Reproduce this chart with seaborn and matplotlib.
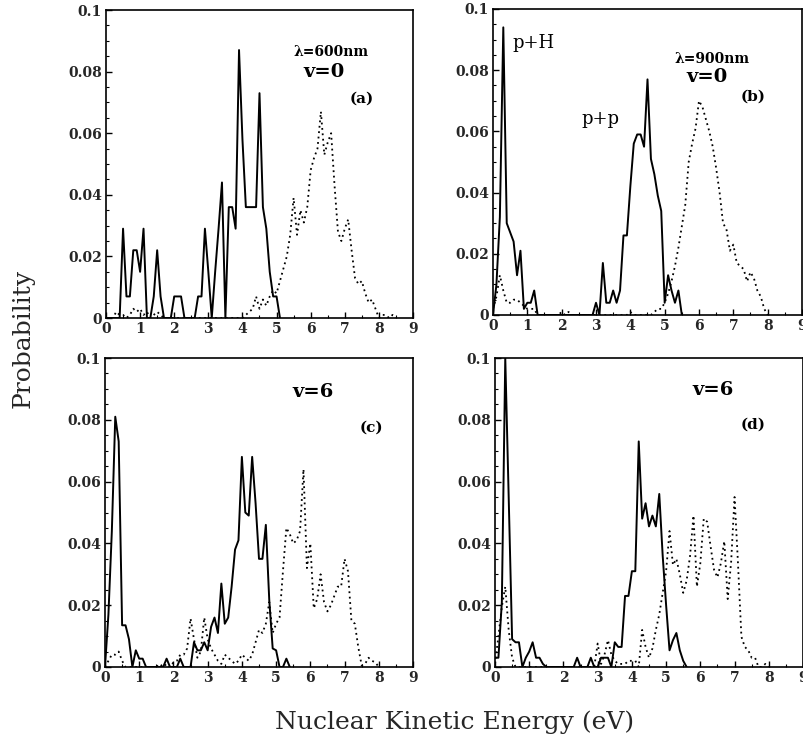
import numpy as np
import pandas as pd
import matplotlib
matplotlib.use("Agg")
import matplotlib.pyplot as plt
from matplotlib.ticker import MultipleLocator, FixedLocator, FixedFormatter
import seaborn as sns

# ---- data: probability per 0.1 eV energy bin, each series starts at 0.0 eV ----
STEP = 0.1

a_solid = [0, 0, 0, 0, 0, 0.029, 0.007, 0.007, 0.022, 0.022, 0.015, 0.029, 0, 0,
           0.007, 0.022, 0.007, 0, 0, 0, 0.007, 0.007, 0.007, 0, 0, 0, 0, 0.007,
           0.007, 0.029, 0.015, 0, 0.015, 0.029, 0.044, 0, 0.036, 0.036, 0.029,
           0.087, 0.058, 0.036, 0.036, 0.036, 0.036, 0.073, 0.036, 0.029, 0.015,
           0.007, 0.007, 0]
a_dotted = [0, 0, 0, 0.002, 0.001, 0.001, 0, 0.001, 0.003, 0.002, 0.003, 0.001,
            0.002, 0, 0.001, 0.002, 0.001, 0, 0, 0, 0, 0, 0, 0, 0, 0, 0, 0, 0, 0,
            0, 0, 0, 0, 0, 0, 0, 0, 0, 0, 0, 0.001, 0.002, 0.003, 0.007, 0.003,
            0.006, 0.004, 0.007, 0.009, 0.008, 0.012, 0.016, 0.020, 0.027, 0.039,
            0.027, 0.035, 0.031, 0.036, 0.048, 0.052, 0.055, 0.067, 0.053, 0.057,
            0.060, 0.043, 0.028, 0.025, 0.029, 0.032, 0.022, 0.013, 0.011, 0.012,
            0.008, 0.005, 0.006, 0.003, 0, 0.001, 0.001, 0, 0.001, 0]

b_solid = [0, 0.010, 0.032, 0.094, 0.030, 0.027, 0.024, 0.013, 0.021, 0.002,
           0.004, 0.004, 0.008, 0, 0, 0, 0, 0, 0, 0, 0, 0, 0, 0, 0, 0, 0, 0, 0,
           0, 0.004, 0, 0.017, 0.004, 0.004, 0.008, 0.004, 0.008, 0.026, 0.026,
           0.042, 0.056, 0.059, 0.059, 0.055, 0.077, 0.051, 0.046, 0.039, 0.034,
           0.004, 0.013, 0.008, 0.004, 0.008, 0]
b_dotted = [0.002, 0.006, 0.013, 0.008, 0.004, 0.004, 0.005, 0.005, 0.004, 0.003,
            0.002, 0.002, 0.002, 0, 0, 0, 0, 0, 0, 0, 0.001, 0, 0.001, 0, 0, 0,
            0, 0, 0, 0, 0, 0, 0, 0, 0, 0, 0, 0, 0, 0, 0.001, 0, 0, 0, 0, 0, 0,
            0.001, 0.002, 0.002, 0.004, 0.007, 0.011, 0.016, 0.022, 0.029, 0.036,
            0.050, 0.056, 0.061, 0.070, 0.068, 0.064, 0.060, 0.055, 0.048, 0.040,
            0.030, 0.028, 0.021, 0.023, 0.017, 0.016, 0.015, 0.011, 0.014, 0.012,
            0.008, 0.006, 0.002, 0]

c_solid = [0, 0.017, 0.044, 0.081, 0.073, 0.0135, 0.0135, 0.009, 0, 0.0054,
           0.0027, 0.0027, 0, 0, 0, 0, 0, 0, 0.0027, 0, 0, 0, 0.0027, 0, 0, 0,
           0.008, 0.0054, 0.0054, 0.008, 0.0054, 0.013, 0.016, 0.011, 0.027,
           0.014, 0.016, 0.026, 0.038, 0.041, 0.068, 0.050, 0.049, 0.068, 0.053,
           0.035, 0.035, 0.046, 0.0216, 0.006, 0.0054, 0, 0, 0.0027, 0]
c_dotted = [0, 0.002, 0.004, 0.004, 0.005, 0.002, 0, 0, 0, 0, 0, 0, 0, 0, 0, 0,
            0.001, 0, 0.001, 0, 0.0015, 0.002, 0.004, 0.004, 0.006, 0.0157, 0.009,
            0.003, 0.005, 0.016, 0.009, 0.006, 0.004, 0.002, 0.001, 0.004, 0.003,
            0.002, 0.001, 0.002, 0.004, 0.003, 0.002, 0.004, 0.008, 0.012, 0.011,
            0.014, 0.021, 0.011, 0.014, 0.016, 0.031, 0.045, 0.043, 0.040, 0.041,
            0.044, 0.064, 0.032, 0.040, 0.019, 0.022, 0.030, 0.021, 0.018, 0.020,
            0.023, 0.026, 0.026, 0.035, 0.031, 0.015, 0.014, 0.0065, 0.0005, 0.001,
            0.003, 0.002, 0.0015, 0]

d_solid = [0.003, 0.003, 0.021, 0.100, 0.055, 0.009, 0.008, 0.008, 0, 0.003,
           0.005, 0.008, 0.003, 0.003, 0.001, 0, 0, 0, 0, 0, 0, 0, 0, 0, 0.003,
           0, 0, 0, 0.003, 0, 0, 0.003, 0.003, 0.003, 0, 0.008, 0.0065, 0.0065,
           0.023, 0.023, 0.031, 0.031, 0.073, 0.048, 0.053, 0.0455, 0.049, 0.0455,
           0.056, 0.036, 0.020, 0.0054, 0.0087, 0.011, 0.0054, 0.002, 0]
d_dotted = [0.001, 0.010, 0.0195, 0.026, 0.012, 0.003, 0, 0, 0, 0, 0, 0, 0, 0,
            0, 0, 0, 0, 0, 0, 0, 0, 0, 0, 0, 0, 0, 0, 0, 0, 0.0076, 0.001, 0.004,
            0.0087, 0.004, 0.002, 0.001, 0.001, 0.001, 0.002, 0.002, 0.002, 0,
            0.012, 0.0065, 0.003, 0.006, 0.012, 0.017, 0.024, 0.031, 0.044, 0.033,
            0.035, 0.030, 0.024, 0.028, 0.036, 0.049, 0.026, 0.0336, 0.048, 0.047,
            0.039, 0.0315, 0.029, 0.0336, 0.0407, 0.022, 0.034, 0.055, 0.0336,
            0.0098, 0.0065, 0.0054, 0.003, 0.003, 0, 0, 0.001, 0]

panels = ["a", "b", "c", "d"]
series = {
    "a": (a_solid, a_dotted),
    "b": (b_solid, b_dotted),
    "c": (c_solid, c_dotted),
    "d": (d_solid, d_dotted),
}

x_ticks = [0, 1, 2, 3, 4, 5, 6, 7, 8, 9]
x_ticklabels = ["0", "1", "2", "3", "4", "5", "6", "7", "8", "9"]
y_ticks = [0, 0.02, 0.04, 0.06, 0.08, 0.1]
y_ticklabels = ["0", "0.02", "0.04", "0.06", "0.08", "0.1"]

rows = []
for p in panels:
    for kind, vals in zip(("solid", "dotted"), series[p]):
        for i, v in enumerate(vals):
            rows.append({"panel": p, "kind": kind,
                         "energy": round(i * STEP, 1), "prob": v})
df = pd.DataFrame(rows)

# ---- figure ----
sns.set_theme(style="ticks")
plt.rcParams["font.family"] = ["DejaVu Serif"]

W, H = 804, 745
fig = plt.figure(figsize=(W / 100, H / 100), dpi=100)


def rect(left, top, right, bottom):
    return [left / W, 1 - bottom / H, (right - left) / W, (bottom - top) / H]


axes_px = {
    "a": (106, 10, 413, 318),
    "b": (493, 9, 802, 315),
    "c": (105, 358, 413, 667),
    "d": (495, 358, 803, 667),
}

annotations = {
    "a": [("\u03bb=600nm", 6.6, 0.0864, 10, "bold"),
          ("v=0", 6.4, 0.0800, 14, "bold"),
          ("(a)", 7.5, 0.0712, 11, "bold")],
    "b": [("p+H", 1.17, 0.0888, 13, "normal"),
          ("p+p", 3.12, 0.0640, 13, "normal"),
          ("\u03bb=900nm", 6.38, 0.0837, 10, "bold"),
          ("v=0", 6.23, 0.0778, 14, "bold"),
          ("(b)", 7.57, 0.0712, 11, "bold")],
    "c": [("v=6", 6.08, 0.0890, 14, "bold"),
          ("(c)", 7.8, 0.0773, 11, "bold")],
    "d": [("v=6", 6.37, 0.0896, 14, "bold"),
          ("(d)", 7.54, 0.0783, 11, "bold")],
}

for p in panels:
    ax = fig.add_axes(rect(*axes_px[p]))
    sub = df[df["panel"] == p]
    sns.lineplot(data=sub[sub["kind"] == "solid"], x="energy", y="prob",
                 ax=ax, color="black", lw=1.4, estimator=None)
    sns.lineplot(data=sub[sub["kind"] == "dotted"], x="energy", y="prob",
                 ax=ax, color="black", lw=1.3, estimator=None,
                 linestyle=(0, (1, 2)))
    ax.set_xlim(0, 9)
    ax.set_ylim(0, 0.1)
    ax.xaxis.set_major_locator(FixedLocator(x_ticks))
    ax.xaxis.set_major_formatter(FixedFormatter(x_ticklabels))
    ax.yaxis.set_major_locator(FixedLocator(y_ticks))
    ax.yaxis.set_major_formatter(FixedFormatter(y_ticklabels))
    ax.xaxis.set_minor_locator(MultipleLocator(0.5))
    ax.yaxis.set_minor_locator(MultipleLocator(0.005))
    ax.tick_params(which="major", direction="in", length=4, width=1,
                   labelsize=10, pad=3, color="black")
    ax.tick_params(which="minor", direction="in", length=2.2, width=0.8,
                   color="black")
    for lab in ax.get_xticklabels() + ax.get_yticklabels():
        lab.set_fontweight("bold")
    for s in ax.spines.values():
        s.set_visible(True)
        s.set_linewidth(1.2)
        s.set_color("black")
    ax.set_xlabel("")
    ax.set_ylabel("")
    ax.set_facecolor("white")
    for txt, x, y, size, weight in annotations[p]:
        ax.text(x, y, txt, fontsize=size, fontweight=weight,
                ha="center", va="center", color="black")

fig.text(23 / W, 1 - 338 / H, "Probability", rotation=90, fontsize=18,
         ha="center", va="center")
fig.text(455 / W, 1 - 722 / H, "Nuclear Kinetic Energy (eV)", fontsize=18,
         ha="center", va="center")

fig.savefig("out.png", dpi=100, facecolor="white")
